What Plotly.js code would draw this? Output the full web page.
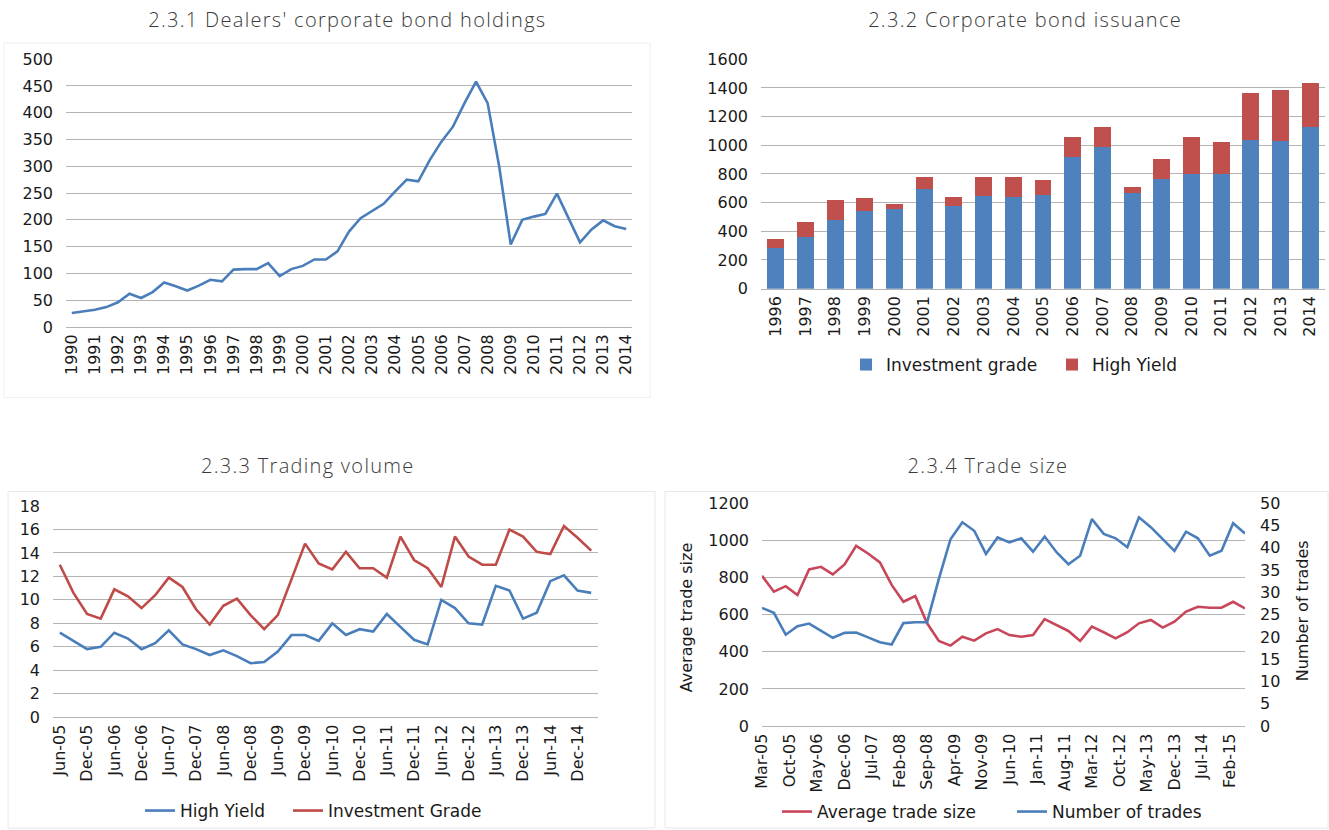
<!DOCTYPE html>
<html>
<head>
<meta charset="utf-8">
<script src="https://cdn.plot.ly/plotly-3.0.1.min.js"></script>
<style>
  html, body { margin: 0; padding: 0; background: #ffffff; }
  #chart { width: 1329px; height: 830px; }
  #chart .annotation-text[data-unformatted^="2.3"] { letter-spacing: 1.3px; }
</style>
</head>
<body>
<div id="chart"></div>
<script>
// ---------- DATA ----------
// 2.3.1 Dealers' corporate bond holdings (semi-annual)
const holdingsPeriods = [1990,1990.5,1991,1991.5,1992,1992.5,1993,1993.5,1994,1994.5,1995,1995.5,1996,1996.5,1997,1997.5,1998,1998.5,1999,1999.5,2000,2000.5,2001,2001.5,2002,2002.5,2003,2003.5,2004,2004.5,2005,2005.5,2006,2006.5,2007,2007.5,2008,2008.5,2009,2009.5,2010,2010.5,2011,2011.5,2012,2012.5,2013,2013.5,2014];
const holdingsValues = [26,29,32,37,46,62,54,65,83,76,68,77,88,85,107,108,108,119,95,108,114,126,126,141,178,203,216,230,253,275,272,312,346,374,418,458,418,300,154,200,206,211,249,203,158,182,199,188,183];
const holdingsYearTicks = [1990,1991,1992,1993,1994,1995,1996,1997,1998,1999,2000,2001,2002,2003,2004,2005,2006,2007,2008,2009,2010,2011,2012,2013,2014];

// 2.3.2 Corporate bond issuance
const issuanceYears = ["1996","1997","1998","1999","2000","2001","2002","2003","2004","2005","2006","2007","2008","2009","2010","2011","2012","2013","2014"];
const investmentGrade = [283,358,476,541,553,697,574,643,639,655,915,989,669,764,801,801,1038,1031,1124];
const highYield = [63,106,139,91,39,83,65,137,141,102,144,135,42,139,258,219,328,351,311];

// 2.3.3 Trading volume (quarterly)
const volumeQuarters = ["Jun-05","Sep-05","Dec-05","Mar-06","Jun-06","Sep-06","Dec-06","Mar-07","Jun-07","Sep-07","Dec-07","Mar-08","Jun-08","Sep-08","Dec-08","Mar-09","Jun-09","Sep-09","Dec-09","Mar-10","Jun-10","Sep-10","Dec-10","Mar-11","Jun-11","Sep-11","Dec-11","Mar-12","Jun-12","Sep-12","Dec-12","Mar-13","Jun-13","Sep-13","Dec-13","Mar-14","Jun-14","Sep-14","Dec-14","Mar-15"];
const volumeHighYield = [7.2,6.5,5.8,6.0,7.2,6.7,5.8,6.3,7.4,6.2,5.8,5.3,5.7,5.2,4.6,4.7,5.6,7.0,7.0,6.5,8.0,7.0,7.5,7.3,8.8,7.7,6.6,6.2,10.0,9.3,8.0,7.9,11.2,10.8,8.4,8.9,11.6,12.1,10.8,10.6];
const volumeInvGrade = [13.0,10.6,8.8,8.4,10.9,10.3,9.3,10.4,11.9,11.1,9.2,7.9,9.5,10.1,8.7,7.5,8.7,11.8,14.8,13.1,12.6,14.1,12.7,12.7,11.9,15.4,13.4,12.7,11.1,15.4,13.7,13.0,13.0,16.0,15.4,14.1,13.9,16.3,15.3,14.2];
const volumeTicks = ["Jun-05","Dec-05","Jun-06","Dec-06","Jun-07","Dec-07","Jun-08","Dec-08","Jun-09","Dec-09","Jun-10","Dec-10","Jun-11","Dec-11","Jun-12","Dec-12","Jun-13","Dec-13","Jun-14","Dec-14"];

// 2.3.4 Trade size (quarterly)
const sizeDates = ["2005-03-01","2005-06-01","2005-09-01","2005-12-01","2006-03-01","2006-06-01","2006-09-01","2006-12-01","2007-03-01","2007-06-01","2007-09-01","2007-12-01","2008-03-01","2008-06-01","2008-09-01","2008-12-01","2009-03-01","2009-06-01","2009-09-01","2009-12-01","2010-03-01","2010-06-01","2010-09-01","2010-12-01","2011-03-01","2011-06-01","2011-09-01","2011-12-01","2012-03-01","2012-06-01","2012-09-01","2012-12-01","2013-03-01","2013-06-01","2013-09-01","2013-12-01","2014-03-01","2014-06-01","2014-09-01","2014-12-01","2015-03-01","2015-06-01"];
const avgTradeSize = [809,723,753,705,843,857,816,870,970,929,881,760,669,700,553,458,433,481,460,499,522,490,481,490,576,544,512,458,535,505,472,505,553,571,530,562,616,642,637,637,669,633];
const numberOfTrades = [26.5,25.4,20.5,22.4,23.0,21.4,19.8,20.9,21.0,19.9,18.8,18.3,23.1,23.3,23.3,33.0,41.9,45.7,43.8,38.6,42.3,41.2,42.1,39.1,42.5,39.0,36.3,38.2,46.4,43.1,42.1,40.1,46.8,44.6,41.9,39.3,43.6,42.1,38.2,39.3,45.5,43.2];
const sizeTicks = ["2005-03-01","2005-10-01","2006-05-01","2006-12-01","2007-07-01","2008-02-01","2008-09-01","2009-04-01","2009-11-01","2010-06-01","2011-01-01","2011-08-01","2012-03-01","2012-10-01","2013-05-01","2013-12-01","2014-07-01","2015-02-01"];

// ---------- STYLE ----------
const W = 1329, H = 830;
const px = v => v / W;
const py = v => 1 - v / H;
const GRID = "#b4b4b4";
const FONT = "DejaVu Sans";
const TITLEFONT = {family: "Open Sans", size: 20, color: "#3a3a3a", weight: 300};
const tickFont = {family: FONT, size: 16, color: "#1a1a1a"};
const legendFont = {family: FONT, size: 17, color: "#1a1a1a"};
const axTitleFont = {family: FONT, size: 16, color: "#1a1a1a"};

function yAx(domTop, domBot, range, dtick, extra) {
  return Object.assign({
    domain: [py(domBot), py(domTop)], range: range, dtick: dtick,
    showgrid: true, gridcolor: GRID, gridwidth: 1, zeroline: false,
    showline: false, ticks: "", tickfont: tickFont, ticklabelstandoff: 12,
    fixedrange: true
  }, extra || {});
}
function xAx(l, r, extra) {
  return Object.assign({
    domain: [px(l), px(r)], showgrid: false, zeroline: false,
    showline: true, linecolor: GRID, linewidth: 1, ticks: "",
    tickangle: -90, tickfont: tickFont, fixedrange: true
  }, extra || {});
}
function leg(x, y) {
  return {orientation: "h", x: px(x), y: py(y), xanchor: "left", yanchor: "middle",
          font: legendFont, bgcolor: "rgba(0,0,0,0)", borderwidth: 0};
}

const traces = [
  {x: holdingsPeriods, y: holdingsValues, type: "scatter", mode: "lines",
   line: {color: "#4A7EBB", width: 2.6}, xaxis: "x", yaxis: "y", showlegend: false},
  {x: issuanceYears, y: investmentGrade, type: "bar", name: "Investment grade",
   marker: {color: "#4F81BD"}, xaxis: "x2", yaxis: "y2", legend: "legend"},
  {x: issuanceYears, y: highYield, type: "bar", name: "High Yield",
   marker: {color: "#C0504D"}, xaxis: "x2", yaxis: "y2", legend: "legend2"},
  {x: volumeQuarters, y: volumeHighYield, type: "scatter", mode: "lines", name: "High Yield",
   line: {color: "#4A7EBB", width: 2.6}, xaxis: "x3", yaxis: "y3", legend: "legend3"},
  {x: volumeQuarters, y: volumeInvGrade, type: "scatter", mode: "lines", name: "Investment Grade",
   line: {color: "#BE4B48", width: 2.6}, xaxis: "x3", yaxis: "y3", legend: "legend4"},
  {x: sizeDates, y: avgTradeSize, type: "scatter", mode: "lines", name: "Average trade size",
   line: {color: "#C8465A", width: 2.6}, xaxis: "x4", yaxis: "y4", legend: "legend5"},
  {x: sizeDates, y: numberOfTrades, type: "scatter", mode: "lines", name: "Number of trades",
   line: {color: "#4A7EBB", width: 2.6}, xaxis: "x4", yaxis: "y5", legend: "legend6"}
];

const layout = {
  width: W, height: H,
  margin: {l: 0, r: 0, t: 0, b: 0},
  paper_bgcolor: "#ffffff", plot_bgcolor: "rgba(0,0,0,0)",
  barmode: "stack", bargap: 0.43,
  font: {family: FONT, color: "#1a1a1a"},
  // panel 1
  xaxis: xAx(66, 632, {type: "linear", range: [1989.75, 2014.25], tickvals: holdingsYearTicks,
                       ticktext: holdingsYearTicks.map(String), anchor: "y"}),
  yaxis: yAx(59.3, 327.3, [0, 500], 50, {anchor: "x"}),
  // panel 2
  xaxis2: xAx(761, 1325, {type: "category", anchor: "y2"}),
  yaxis2: yAx(59.3, 289, [0, 1600], 200, {anchor: "x2"}),
  // panel 3
  xaxis3: xAx(53, 598, {type: "category", range: [-0.5, 39.5], tickvals: volumeTicks,
                        ticktext: volumeTicks, anchor: "y3"}),
  yaxis3: yAx(506.7, 718, [0, 18], 2, {anchor: "x3"}),
  // panel 4
  xaxis4: xAx(762, 1245, {type: "date", range: ["2005-03-01", "2015-06-01"], tickvals: sizeTicks,
                          tickformat: "%b-%y", anchor: "y4"}),
  yaxis4: yAx(503.7, 727, [0, 1200], 200, {anchor: "x4"}),
  yaxis5: {domain: [py(727), py(503.7)], range: [0, 50], dtick: 5, overlaying: "y4",
           side: "right", anchor: "x4", showgrid: false, zeroline: false, showline: false,
           ticks: "", tickfont: tickFont, ticklabelstandoff: 14, fixedrange: true},
  legend: leg(846, 365),
  legend2: leg(1052, 365),
  legend3: leg(140, 811),
  legend4: leg(288, 811),
  legend5: leg(777, 813),
  legend6: leg(1012, 813),
  annotations: [
    {text: "2.3.1 Dealers' corporate bond holdings", x: px(347), y: py(20), xref: "paper", yref: "paper",
     showarrow: false, font: TITLEFONT, xanchor: "center", yanchor: "middle"},
    {text: "2.3.2 Corporate bond issuance", x: px(1025), y: py(20), xref: "paper", yref: "paper",
     showarrow: false, font: TITLEFONT, xanchor: "center", yanchor: "middle"},
    {text: "2.3.3 Trading volume", x: px(308), y: py(466), xref: "paper", yref: "paper",
     showarrow: false, font: TITLEFONT, xanchor: "center", yanchor: "middle"},
    {text: "2.3.4 Trade size", x: px(988), y: py(466), xref: "paper", yref: "paper",
     showarrow: false, font: TITLEFONT, xanchor: "center", yanchor: "middle"},
    {text: "Average trade size", x: px(686), y: py(618), xref: "paper", yref: "paper",
     showarrow: false, textangle: -90, font: axTitleFont, xanchor: "center", yanchor: "middle"},
    {text: "Number of trades", x: px(1302), y: py(612), xref: "paper", yref: "paper",
     showarrow: false, textangle: -90, font: axTitleFont, xanchor: "center", yanchor: "middle"}
  ],
  shapes: [
    {type: "rect", xref: "paper", yref: "paper", x0: px(4), x1: px(650), y0: py(398), y1: py(43),
     line: {color: "#f0f0f0", width: 1}},
    {type: "rect", xref: "paper", yref: "paper", x0: px(8), x1: px(655), y0: py(829), y1: py(492),
     line: {color: "#e8e8e8", width: 1}},
    {type: "rect", xref: "paper", yref: "paper", x0: px(665), x1: px(1328), y0: py(829), y1: py(492),
     line: {color: "#e8e8e8", width: 1}}
  ]
};

Plotly.newPlot("chart", traces, layout, {displayModeBar: false, staticPlot: true});
</script>
</body>
</html>
